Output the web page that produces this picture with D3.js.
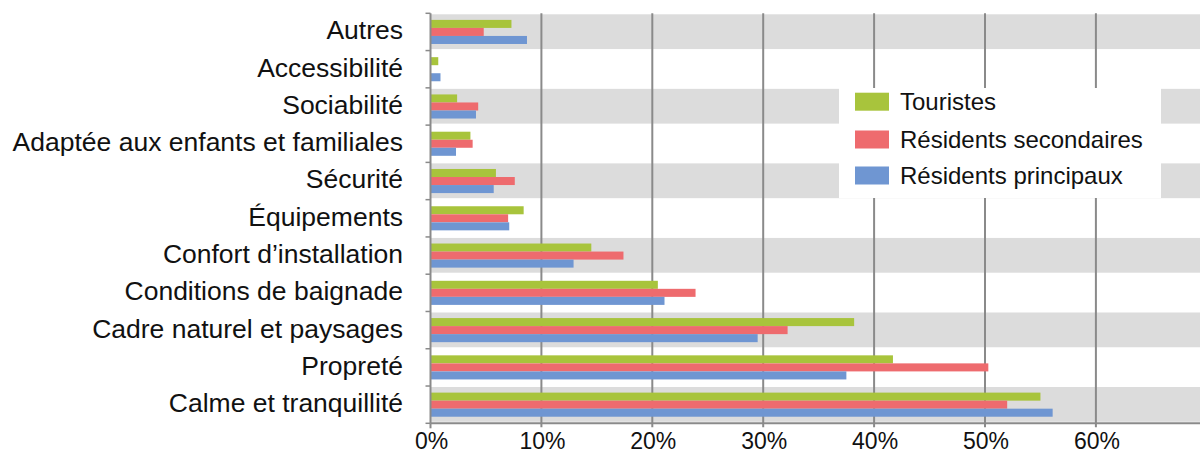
<!DOCTYPE html>
<html>
<head>
<meta charset="utf-8">
<script src="https://cdn.jsdelivr.net/npm/d3@7/dist/d3.min.js"></script>
<style>
  html, body { margin: 0; padding: 0; background: #fff; }
  svg { display: block; font-family: Arial, "Liberation Sans", sans-serif; }
</style>
</head>
<body>
<svg id="chart" width="1200" height="454"></svg>
<script>
const categories = [
  "Autres", "Accessibilité", "Sociabilité", "Adaptée aux enfants et familiales",
  "Sécurité", "Équipements", "Confort d’installation", "Conditions de baignade",
  "Cadre naturel et paysages", "Propreté", "Calme et tranquillité"
];
const seriesNames = ["Touristes", "Résidents secondaires", "Résidents principaux"];
const touristes  = [7.3, 0.7, 2.4, 3.6, 5.9, 8.4, 14.5, 20.5, 38.2, 41.7, 55.0];
const secondaires = [4.8, 0.0, 4.3, 3.8, 7.6, 7.0, 17.4, 23.9, 32.2, 50.3, 52.0];
const principaux = [8.7, 0.9, 4.1, 2.3, 5.7, 7.1, 12.9, 21.1, 29.5, 37.5, 56.1];
const xTicks = [0, 10, 20, 30, 40, 50, 60];
const colors = ["#a8c43c", "#ee6b6e", "#6f96d2"];

const series = [touristes, secondaires, principaux];
const svg = d3.select("#chart");
const plotLeft = 430.5, plotTop = 13.3, plotBottom = 423.3;
const x = d3.scaleLinear().domain([0, 70]).range([plotLeft, plotLeft + 776.3]);
const y = d3.scaleBand().domain(categories).range([plotTop, plotBottom]).paddingInner(0).paddingOuter(0);
const inner = d3.scaleBand().domain([0, 1, 2]).range([0, y.bandwidth()]).paddingOuter(0.82).paddingInner(0);

// alternating bands
svg.append("g").selectAll("rect").data(categories.filter((c, i) => i % 2 === 0)).join("rect")
  .attr("x", plotLeft).attr("width", 1200 - plotLeft)
  .attr("y", d => y(d) + 1).attr("height", y.bandwidth() - 2.5)
  .attr("fill", "#dcdcdc");

// gridlines
svg.append("g").selectAll("line").data(xTicks.filter(t => t > 0)).join("line")
  .attr("x1", d => x(d)).attr("x2", d => x(d))
  .attr("y1", plotTop).attr("y2", plotBottom + 4)
  .attr("stroke", "#8a8a8a").attr("stroke-width", 2);

// bars
const groups = svg.append("g").selectAll("g").data(categories).join("g")
  .attr("transform", d => `translate(0,${y(d)})`);
groups.selectAll("rect").data((d, i) => series.map((s, k) => ({ k, v: s[i] }))).join("rect")
  .attr("x", x(0)).attr("y", d => inner(d.k))
  .attr("width", d => Math.max(0, x(d.v) - x(0)))
  .attr("height", inner.bandwidth())
  .attr("fill", d => colors[d.k]);

// y axis line and ticks
const yAxis = svg.append("g");
yAxis.append("line").attr("x1", plotLeft).attr("x2", plotLeft).attr("y1", plotTop).attr("y2", plotBottom)
  .attr("stroke", "#8a8a8a").attr("stroke-width", 2);
yAxis.selectAll("line.tk").data(categories.map(c => y(c)).concat([plotBottom])).join("line")
  .attr("class", "tk").attr("x1", plotLeft - 5).attr("x2", plotLeft).attr("y1", d => d).attr("y2", d => d)
  .attr("stroke", "#8a8a8a").attr("stroke-width", 1.5);
yAxis.selectAll("text").data(categories).join("text")
  .attr("x", 403).attr("y", d => y(d) + y.bandwidth() / 2 + 7.4)
  .attr("text-anchor", "end")
  .attr("font-size", 26.5).attr("fill", "#111").text(d => d);

// x axis
const xAxis = svg.append("g");
xAxis.append("line").attr("x1", plotLeft).attr("x2", 1200).attr("y1", plotBottom).attr("y2", plotBottom)
  .attr("stroke", "#8a8a8a").attr("stroke-width", 2);
xAxis.append("line").attr("x1", plotLeft).attr("x2", plotLeft).attr("y1", plotBottom).attr("y2", plotBottom + 5)
  .attr("stroke", "#8a8a8a").attr("stroke-width", 2);
xAxis.selectAll("text").data(xTicks).join("text")
  .attr("x", d => x(d) + 1).attr("y", 449).attr("text-anchor", "middle")
  .attr("font-size", 23).attr("fill", "#111").text(d => d + "%");

// legend
const lg = svg.append("g");
lg.append("rect").attr("x", 839).attr("y", 88).attr("width", 322).attr("height", 110).attr("fill", "#fff");
const ly = [101.7, 139.5, 175.5];
seriesNames.forEach((n, k) => {
  lg.append("rect").attr("x", 855).attr("y", ly[k] - 9).attr("width", 34).attr("height", 18).attr("fill", colors[k]);
  lg.append("text").attr("x", 900).attr("y", ly[k] + 8.5)
    .attr("font-size", 24).attr("fill", "#111").text(n);
});
</script>
</body>
</html>
